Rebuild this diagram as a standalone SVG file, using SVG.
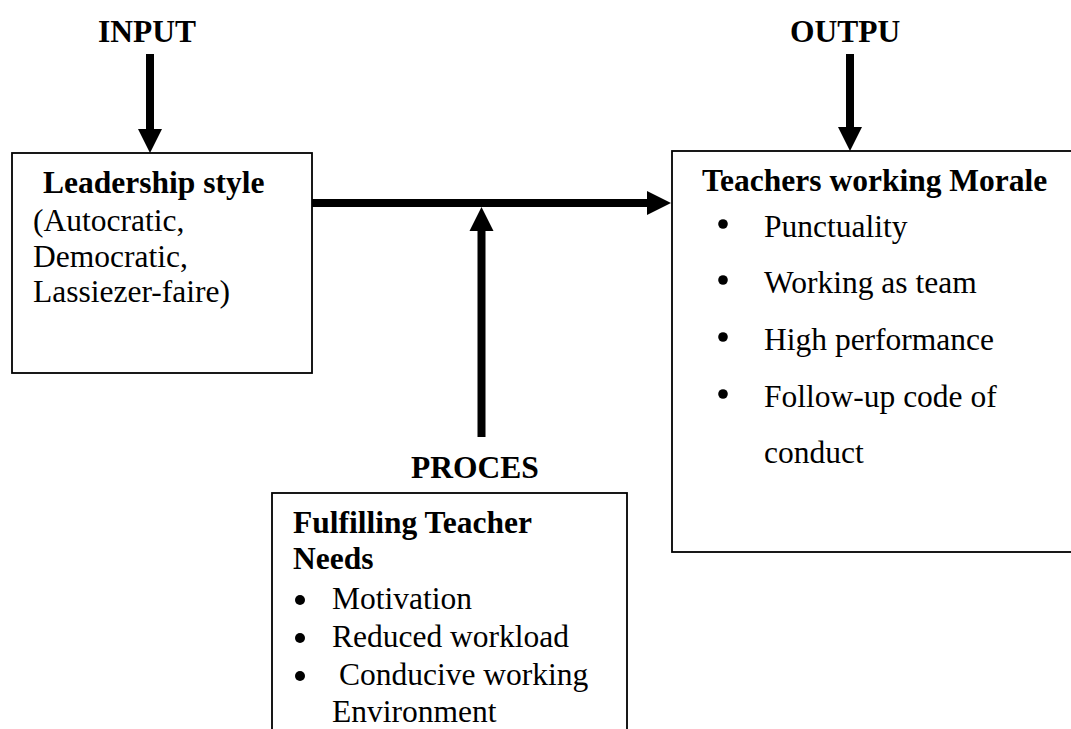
<svg xmlns="http://www.w3.org/2000/svg" width="1071" height="729" viewBox="0 0 1071 729" font-family="'Liberation Serif', 'Times New Roman', Times, serif">
  <style>
    .box { fill: #ffffff; stroke: #000000; stroke-width: 1.8; }
    .t { font-size: 31.5px; fill: #000000; }
    .b { font-weight: bold; }
    .flow { stroke: #000000; stroke-width: 8; fill: none; marker-end: url(#head); }
    .dot { fill: #000000; }
  </style>
  <defs>
    <marker id="head" markerUnits="userSpaceOnUse" markerWidth="24" markerHeight="24" refX="0" refY="12" orient="auto" overflow="visible">
      <path d="M0,0 L24,12 L0,24 Z" fill="#000000"/>
    </marker>
  </defs>
  <rect width="1071" height="729" fill="#ffffff"/>

  <!-- stage headings -->
  <g id="labels">
    <text class="t b" x="98" y="42">INPUT</text>
    <text class="t b" x="790" y="42">OUTPU</text>
    <text class="t b" x="411" y="478">PROCES</text>
  </g>

  <!-- input node -->
  <g id="input-node">
    <rect class="box" x="12" y="153" width="300" height="220"/>
    <text class="t b" x="43" y="193">Leadership style</text>
    <text class="t" x="33" y="231">(Autocratic,</text>
    <text class="t" x="33" y="267">Democratic,</text>
    <text class="t" x="33" y="302">Lassiezer-faire)</text>
  </g>

  <!-- output node -->
  <g id="output-node">
    <rect class="box" x="672" y="151" width="420" height="401"/>
    <text class="t b" x="702" y="191">Teachers working Morale</text>
    <circle class="dot" cx="723" cy="224" r="4.8"/>
    <text class="t" x="764" y="237">Punctuality</text>
    <circle class="dot" cx="723" cy="280" r="4.8"/>
    <text class="t" x="764" y="293">Working as team</text>
    <circle class="dot" cx="723" cy="337" r="4.8"/>
    <text class="t" x="764" y="350">High performance</text>
    <circle class="dot" cx="723" cy="394" r="4.8"/>
    <text class="t" x="764" y="407">Follow-up code of</text>
    <text class="t" x="764" y="463">conduct</text>
  </g>

  <!-- process node -->
  <g id="process-node">
    <rect class="box" x="272" y="493" width="355" height="260"/>
    <text class="t b" x="293" y="533">Fulfilling Teacher</text>
    <text class="t b" x="293" y="569">Needs</text>
    <circle class="dot" cx="300" cy="600" r="5"/>
    <text class="t" x="332" y="609">Motivation</text>
    <circle class="dot" cx="300" cy="638" r="5"/>
    <text class="t" x="332" y="647">Reduced workload</text>
    <circle class="dot" cx="300" cy="676" r="5"/>
    <text class="t" x="339" y="685">Conducive working</text>
    <text class="t" x="332" y="722">Environment</text>
  </g>

  <!-- connectors -->
  <g id="connectors">
    <line class="flow" x1="150" y1="54" x2="150" y2="129"/>
    <line class="flow" x1="850" y1="54" x2="850" y2="127"/>
    <line class="flow" x1="312" y1="203" x2="647" y2="203"/>
    <line class="flow" x1="481.5" y1="437" x2="481.5" y2="231"/>
  </g>
</svg>
